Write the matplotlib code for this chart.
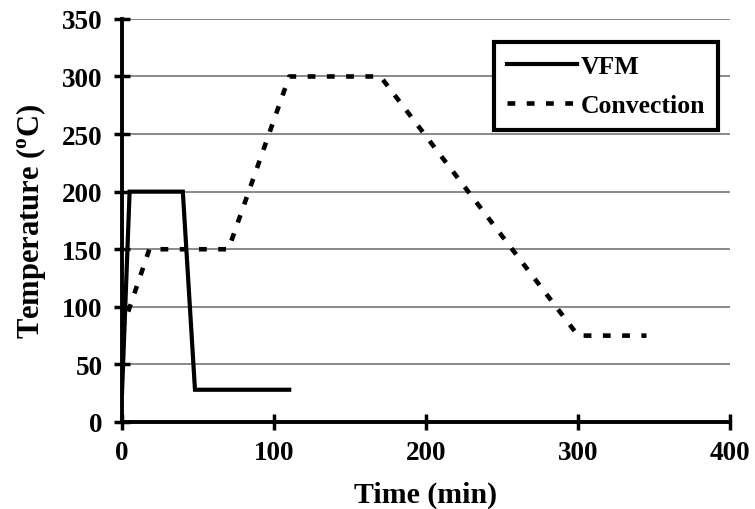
import numpy as np
import matplotlib
matplotlib.use("Agg")
import matplotlib.pyplot as plt

# Data
vfm_time = [0, 5, 40, 48, 110]
vfm_temp = [25, 200, 200, 28, 28]

conv_time = [0, 18, 70, 110, 170, 300, 345]
conv_temp = [80, 150, 150, 300, 300, 75, 75]

x_ticks = [0, 100, 200, 300, 400]
y_ticks = [0, 50, 100, 150, 200, 250, 300, 350]

plt.rcParams['font.family'] = ['Liberation Serif', 'DejaVu Serif']
plt.rcParams['font.weight'] = 'bold'

fig = plt.figure(figsize=(7.55, 5.1), dpi=100)
ax = fig.add_axes([0.1616, 0.1706, 0.8054, 0.7904])

ax.plot(vfm_time, vfm_temp, color='black', linewidth=3, label='VFM', solid_joinstyle='miter')
ax.plot(conv_time, conv_temp, color='black', linewidth=3.3, linestyle=(0, (1.7, 2.5)), label='Convection')

ax.set_xlim(0, 400)
ax.set_ylim(0, 350)
ax.set_xticks(x_ticks)
ax.set_yticks(y_ticks)
ax.yaxis.grid(True, color='#808080', linewidth=1.3)
ax.set_axisbelow(True)

for side in ['top', 'right']:
    ax.spines[side].set_visible(False)
for side in ['left', 'bottom']:
    ax.spines[side].set_linewidth(2.8)

ax.tick_params(axis='both', direction='inout', length=12, width=2.5, labelsize=19.5)
ax.tick_params(axis='y', pad=8)
ax.tick_params(axis='x', pad=7)
for lbl in ax.get_xticklabels() + ax.get_yticklabels():
    lbl.set_fontweight('bold')

ax.set_xlabel('Time (min)', fontsize=21.5, fontweight='bold', labelpad=11)
ax.set_ylabel('Temperature ($^{\\mathregular{o}}$C)', fontsize=22, fontweight='bold', labelpad=10)

leg = ax.legend(loc='upper right', bbox_to_anchor=(0.98, 0.943), frameon=True,
                fancybox=False, handlelength=2.7, handletextpad=0.15, borderpad=0.5,
                labelspacing=0.65, borderaxespad=0, prop={'weight': 'bold', 'size': 18.5})
leg.get_frame().set_edgecolor('black')
leg.get_frame().set_linewidth(3)
leg.get_frame().set_alpha(1)

plt.savefig('out.png', dpi=100)
plt.close()
